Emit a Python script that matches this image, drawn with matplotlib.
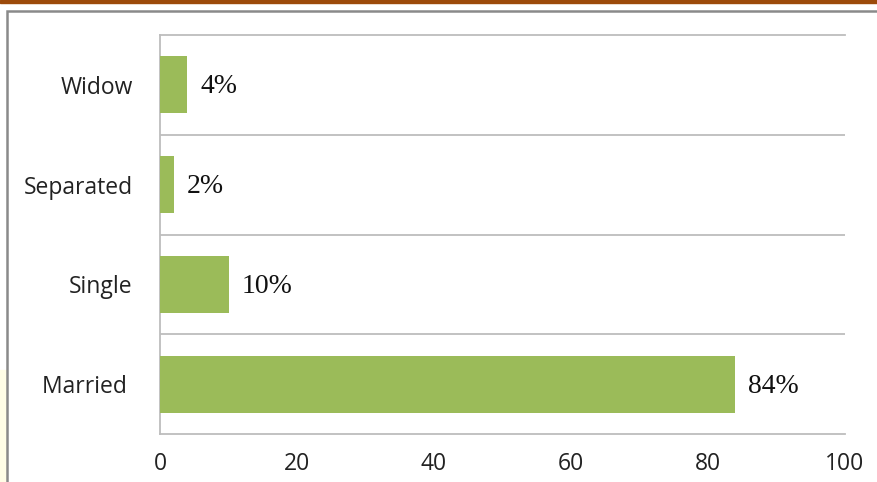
import matplotlib.pyplot as plt
from matplotlib.patches import Rectangle

# marital status shares (percent)
categories = ['Married ', 'Single', 'Separated', 'Widow']
values = [84, 10, 2, 4]
xticks = [0, 20, 40, 60, 80, 100]

bar_color = '#9bbb59'
grid_color = '#bdbdbd'

fig = plt.figure(figsize=(8.78, 4.82), dpi=100)

# page decorations: brown strip on top, frame around the chart, pale strip on the left
fig.patches.append(Rectangle((0, 1 - 3 / 482), 1, 3 / 482, transform=fig.transFigure,
                             color='#9c4a0a', zorder=0))
fig.patches.append(Rectangle((7 / 878, -0.05), 1.0, 1 - 11 / 482 + 0.05, transform=fig.transFigure,
                             fill=False, edgecolor='#8a8a8a', linewidth=1.8, zorder=1))
fig.patches.append(Rectangle((0, 0), 6 / 878, 112 / 482, transform=fig.transFigure,
                             color='#fffde6', zorder=0))

ax = fig.add_axes([160 / 878, 48 / 482, 685 / 878, 399 / 482])
ypos = list(range(len(categories)))
ax.barh(ypos, values, height=0.57, color=bar_color, zorder=3)

for y, v in zip(ypos, values):
    ax.text(v + 1.9, y - 0.02, f'{v}%', va='center', ha='left', fontsize=20,
            family='Liberation Serif', color='#111111')

ax.set_xlim(0, 100)
ax.set_ylim(-0.5, len(categories) - 0.5)
ax.set_xticks(xticks)
ax.set_yticks(ypos)
ax.set_yticklabels(categories)
ax.tick_params(length=0, labelsize=16.5, colors='#222222')
ax.tick_params(axis='y', pad=19.5)
ax.tick_params(axis='x', pad=13)
for lab in ax.get_xticklabels() + ax.get_yticklabels():
    lab.set_family('Open Sans')

# horizontal lines between category bands
for b in [y + 0.5 for y in ypos[:-1]]:
    ax.axhline(b, color=grid_color, linewidth=1.3, zorder=1)

for side in ['top', 'bottom', 'left']:
    ax.spines[side].set_color(grid_color)
    ax.spines[side].set_linewidth(1.3)
ax.spines['right'].set_visible(False)

plt.savefig('out.png', dpi=100)
